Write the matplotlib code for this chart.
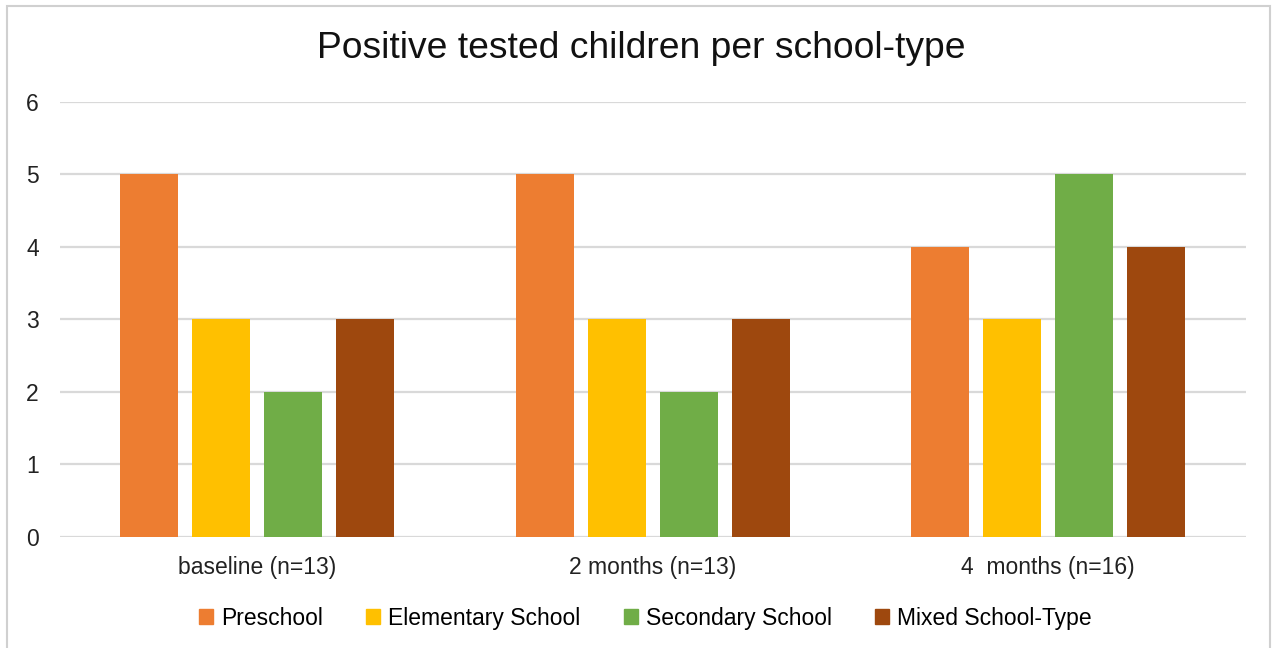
import matplotlib.pyplot as plt
from matplotlib.patches import Rectangle
import numpy as np

plt.rcParams['font.family'] = ['Liberation Sans', 'DejaVu Sans']

# Time points and counts of positive children per school type
timepoints = ["baseline (n=13)", "2 months (n=13)", "4  months (n=16)"]
school_types = ["Preschool", "Elementary School", "Secondary School", "Mixed School-Type"]
preschool = [5, 5, 4]
elementary = [3, 3, 3]
secondary = [2, 2, 5]
mixed = [3, 3, 4]

colors = ["#ED7D31", "#FFC000", "#70AD47", "#9E480E"]
series = [preschool, elementary, secondary, mixed]

fig = plt.figure(figsize=(12.78, 6.48), dpi=100)
ax = fig.add_axes([0.0466, 0.1713, 0.9284, 0.6713])

x = np.arange(len(timepoints))
step = 0.182
width = 0.147
for i, (vals, col, name) in enumerate(zip(series, colors, school_types)):
    ax.bar(x + (i - 1.5) * step, vals, width=width, color=col, label=name, zorder=3)

ax.set_xlim(-0.5, len(timepoints) - 0.5)
ax.set_ylim(0, 6)
ax.set_yticks(range(0, 7))
ax.set_xticks(x)
ax.set_xticklabels(timepoints)
ax.tick_params(axis='both', length=0, labelsize=16.5, colors="#222222")
ax.tick_params(axis='y', pad=15)
ax.tick_params(axis='x', pad=14)
ax.grid(axis='y', color="#d9d9d9", linewidth=1.6, zorder=0)
for s in ax.spines.values():
    s.set_visible(False)

fig.text(0.502, 0.925, "Positive tested children per school-type", ha='center', va='center',
         fontsize=26.8, color="#111111")

handles = [plt.Rectangle((0, 0), 1, 1, color=c) for c in colors]
fig.legend(handles, school_types, loc='center', bbox_to_anchor=(0.505, 0.046), ncol=4,
           frameon=False, fontsize=16.5, handlelength=0.6, handleheight=0.6,
           handletextpad=0.35, columnspacing=1.9)

# light outline round the whole chart
fig.patches.append(Rectangle((0.0055, -0.02), 0.988, 1.011, transform=fig.transFigure,
                             fill=False, edgecolor="#d0d0d0", linewidth=1.5))

fig.savefig("out.png", dpi=100)
